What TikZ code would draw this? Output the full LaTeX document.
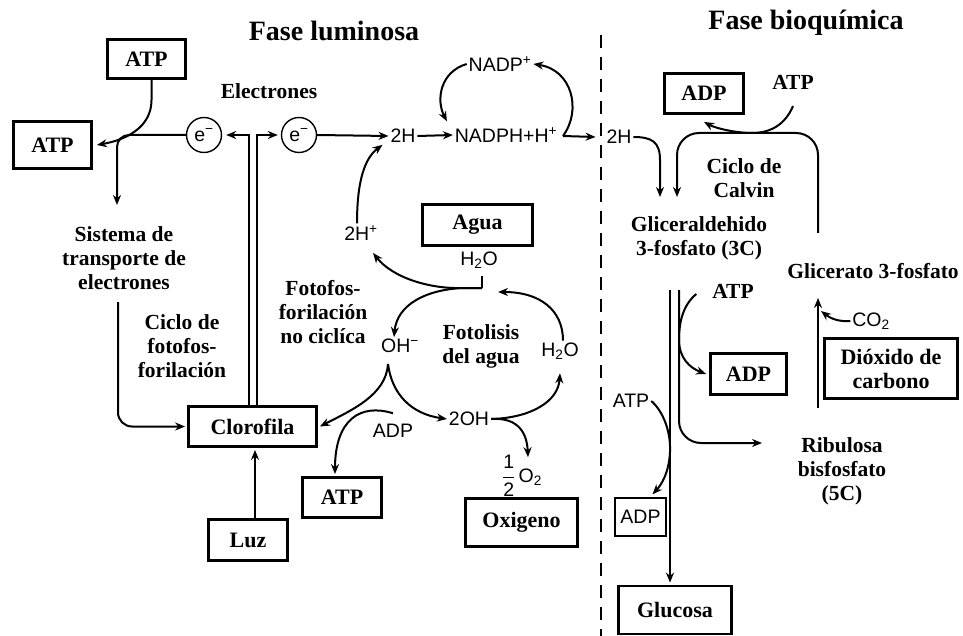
\documentclass[tikz,border=0pt]{standalone}
\usepackage{fontspec}
\setmainfont{Liberation Serif}
\setsansfont{Liberation Sans}
\usetikzlibrary{arrows.meta}

\newcommand\boxfont{\bfseries\fontsize{22}{24}\selectfont}
\newcommand\lblfont{\bfseries\fontsize{21.5}{24}\selectfont}
\newcommand\chemfont{\sffamily\fontsize{19.5}{21}\selectfont}
\newcommand\phasefont{\bfseries\fontsize{28}{30}\selectfont}

\tikzset{
  box/.style 2 args={draw, line width=2.8pt, minimum width=#1, minimum height=#2, inner sep=0pt, font=\boxfont},
  thinbox/.style 2 args={draw, line width=1.3pt, minimum width=#1, minimum height=#2, inner sep=0pt, font=\chemfont},
  lbl/.style={align=center, inner sep=1pt, font=\lblfont},
  chem/.style={inner sep=1pt, font=\chemfont},
  ecirc/.style={draw, circle, line width=1.4pt, minimum size=35pt, inner sep=0pt, font=\chemfont},
  phasetitle/.style={inner sep=1pt, font=\phasefont},
}

\begin{document}
\begin{tikzpicture}[x=1pt, y=-1pt, >={Stealth[length=10pt,width=8pt]}, line width=2pt]
    \useasboundingbox (0,0) rectangle (963,636);

    \node[phasetitle] (luminosa) at (334,31) {Fase luminosa};
    \node[phasetitle] (bioquimica) at (806,23) {Fase bioquímica};
    \draw[line width=2.6pt, dash pattern=on 13pt off 9pt] (601,35) -- (601,636);

    % fase luminosa
    \node[box={78pt}{39pt}] (atpA) at (146.5,59) {ATP};
    \node[box={78pt}{47pt}] (atpB) at (52.5,145) {ATP};
    \node[box={128pt}{40pt}] (clorofila) at (252.5,426.5) {Clorofila};
    \node[box={79pt}{41pt}] (luz) at (248,540) {Luz};
    \node[box={79pt}{40pt}] (atpL) at (342,497.5) {ATP};
    \node[box={112pt}{48pt}] (oxigeno) at (521.5,522.5) {Oxigeno};
    \node[box={110pt}{41pt}] (agua) at (477.5,225) {Agua};

    \node[lbl] (electrones) at (269,91) {Electrones};
    \node[lbl] (sistema) at (124,258) {Sistema de\\transporte de\\electrones};
    \node[lbl] (ciclofoto) at (182,346) {Ciclo de\\fotofos-\\forilación};
    \node[lbl] (nociclica) at (323,312) {Fotofos-\\forilación\\no ciclíca};
    \node[lbl] (fotolisis) at (481,346) {Fotolisis\\del agua};

    \node[ecirc] (eL) at (204,135) {e\textsuperscript{−}};
    \node[ecirc] (eR) at (299,135) {e\textsuperscript{−}};
    \node[chem] (hA) at (403,136) {2H};
    \node[chem] (nadph) at (506,135) {NADPH+H\textsuperscript{+}};
    \node[chem] (nadp) at (500,64) {NADP\textsuperscript{+}};
    \node[chem] (hp) at (361,233) {2H\textsuperscript{+}};
    \node[chem] (h2oA) at (479,260) {H\textsubscript{2}O};
    \node[chem] (oh) at (400,346) {OH\textsuperscript{−}};
    \node[chem] (h2oB) at (560,351) {H\textsubscript{2}O};
    \node[chem] (oh2) at (469,419) {2OH};
    \node[chem] (adpL) at (393,431) {ADP};
    \node[chem] (o2) at (522,476) {${\displaystyle\frac{\textsf{1}}{\textsf{2}}}$\,O\textsubscript{2}};

    \draw[->] ([shift={(5pt,0pt)}]atpA.south) -- (151.5,100) .. controls (151.5,128) and (125,140) .. ([xshift=4pt]atpB.east);
    \coordinate (sysin) at (117,205);
    \draw[->, rounded corners=12pt] (eL.west) -| (sysin);
    \coordinate (sysout) at (118,302);
    \draw[->, rounded corners=14pt] (sysout) |- ([xshift=-2pt]clorofila.west);
    \draw[->] ([xshift=-4pt]clorofila.north) |- ([xshift=4pt]eL.east);
    \draw[->] ([xshift=4pt]clorofila.north) |- ([xshift=-3pt]eR.west);
    \coordinate (lzup) at ([xshift=7pt]luz.north);
    \draw[->] (lzup) -- ([yshift=-2pt]lzup |- clorofila.south);

    \draw[->] (eR.east) -- (hA.west);
    \draw[->] (hA.east) -- (nadph.west);
    \draw[->] (nadp.west) .. controls (440,72) and (436,100) .. ([shift={(-6pt,4pt)}]nadph.north west);
    \coordinate (split) at (563,136);
    \draw[->] (split) .. controls (582,110) and (572,70) .. (nadp.east);

    \draw[->] ([xshift=-4pt]hp.north) .. controls (357,180) and (365,158) .. ([xshift=-6pt]hA.south west);
    \coordinate (wj) at (482,288);
    \coordinate (hpin) at (373,253);
    \coordinate (wjin) at (498,292);
    \draw[shorten <=6pt] ([xshift=3pt]h2oA.south) -- (wj);
    \draw[->] (wj) -- (462,288) .. controls (430,289) and (393,278) .. (hpin);
    \draw[->] (wj) -- (462,288) .. controls (425,290) and (397,305) .. ([xshift=-6pt]oh.north);
    \draw[->] ([xshift=3pt]h2oB.north) .. controls (563,310) and (540,292) .. (wjin);
    \coordinate (ohs) at (388,364);
    \draw[->] (ohs) .. controls (386,395) and (352,410) .. ([xshift=2pt]clorofila.east);
    \draw[->] (ohs) .. controls (392,395) and (412,414) .. (oh2.west);
    \draw[->] ([yshift=9pt]adpL.north) .. controls (360,403) and (335,420) .. ([shift={(-7pt,2pt)}]atpL.north);
    \draw[->] (oh2.east) .. controls (530,418) and (558,402) .. ([yshift=-12pt]h2oB.south);
    \draw[->] (oh2.east) .. controls (520,417) and (527,435) .. ([shift={(6pt,-4pt)}]o2.north);

    % fase bioquimica
    \node[box={79pt}{40pt}] (adpA) at (704,93.5) {ADP};
    \node[box={76pt}{41pt}] (adpB) at (748.5,374) {ADP};
    \node[thinbox={51pt}{38pt}] (adpC) at (640.5,517) {ADP};
    \node[box={113pt}{48pt}] (glucosa) at (675,610) {Glucosa};
    \node[box={133pt}{60pt}, align=center] (dioxido) at (891,368.5) {Dióxido de\\carbono};

    \node[chem] (hB) at (619,137) {2H};
    \node[lbl] (atpC) at (793,82) {ATP};
    \node[lbl] (calvin) at (744,178) {Ciclo de\\Calvin};
    \node[lbl] (gald) at (699,238) {Gliceraldehido\\3-fosfato (3C)};
    \node[lbl] (glicerato) at (873,271) {Glicerato 3-fosfato};
    \node[lbl] (atpD) at (733,291) {ATP};
    \node[chem] (atpE) at (631,401) {ATP};
    \node[chem] (co2) at (871,321) {CO\textsubscript{2}};
    \node[lbl] (ribulosa) at (842,471) {Ribulosa\\bisfosfato\\(5C)};

    \draw[->] (split) -- ([xshift=-9pt]hB.west);
    \coordinate (galdA) at (660,197);
    \coordinate (galdB) at (677,197);
    \draw[->] (hB.east) .. controls (652,137) and (660,142) .. (660,160) -- (galdA);
    \coordinate (glcA) at (818,233);
    \draw[->, rounded corners=22pt] (glcA) -- (818,133) -- (677,133) -- (galdB);
    \draw[->] ([yshift=-15pt]atpC.south) .. controls (785,125) and (770,133) .. (752,133) .. controls (735,133) and (715,128) .. ([yshift=-7pt]adpA.south);

    \coordinate (gaL) at (670,290);
    \coordinate (gaR) at (679,290);
    \draw[->] (gaL) -- ([yshift=2pt]gaL |- glucosa.north);
    \coordinate (ribin) at (762,443);
    \draw[->, rounded corners=22pt] (gaR) |- (ribin);
    \draw[->] ([shift={(-14pt,-3pt)}]atpD.west) .. controls (683,305) and (679,322) .. (679,340) .. controls (679,358) and (690,368) .. ([xshift=-3pt]adpB.west);
    \draw[->] (atpE.east) .. controls (662,410) and (671,430) .. (670,452) .. controls (669,472) and (662,484) .. ([shift={(12pt,3pt)}]adpC.north);

    \coordinate (ribtop) at (818,408);
    \coordinate (glcB) at (818,298);
    \coordinate (co2in) at (821,311);
    \draw[->] (ribtop) -- (glcB);
    \draw[->] (co2.west) .. controls (838,322) and (830,318) .. (co2in);
\end{tikzpicture}
\end{document}
